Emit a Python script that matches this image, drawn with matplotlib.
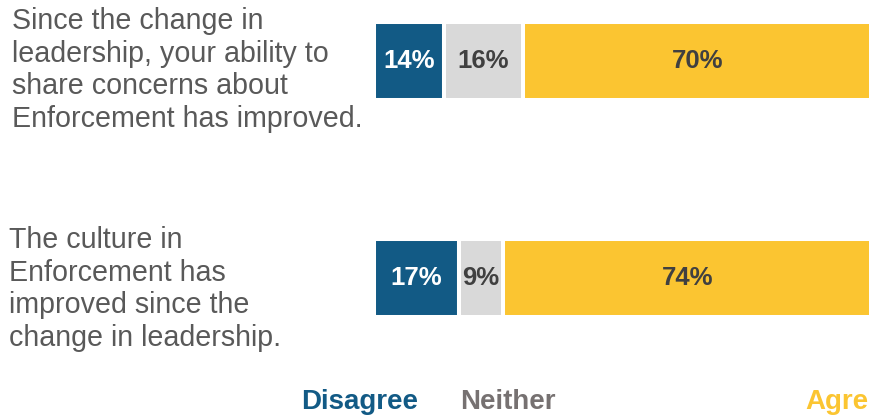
import matplotlib.pyplot as plt
import numpy as np

plt.rcParams['font.family'] = ['Liberation Sans', 'DejaVu Sans']

# Data
questions = [
    "Since the change in\nleadership, your ability to\nshare concerns about\nEnforcement has improved.",
    "The culture in\nEnforcement has\nimproved since the\nchange in leadership.",
]
responses = ['Disagree', 'Neither', 'Agree']
disagree = [14, 17]
neither = [16, 9]
agree = [70, 74]

colors = ['#125a85', '#d9d9d9', '#fbc531']
text_colors = ['white', '#404040', '#404040']
legend_colors = ['#125a85', '#767171', '#fbc531']

W, H = 870, 417
fig = plt.figure(figsize=(W / 100, H / 100), dpi=100)
# axes: 0% at x=374px, 100% at ~872px (right end runs off the canvas)
ax = fig.add_axes([374 / W, 0, 498 / W, 1])

y = np.arange(len(questions))
left = np.zeros(len(questions))
for vals, c, tc in zip([disagree, neither, agree], colors, text_colors):
    bars = ax.barh(y, vals, left=left, height=0.36, color=c,
                   edgecolor='white', linewidth=2.9)
    for b, v in zip(bars, vals):
        ax.text(b.get_x() + b.get_width() / 2, b.get_y() + b.get_height() / 2,
                f"{v}%", ha='center', va='center', fontsize=18.5,
                fontweight='bold', color=tc)
    left += np.array(vals)

ax.set_xlim(0, 100)
ax.set_ylim(1 + (H - 278) / 217, -61 / 217)
ax.axis('off')

# question labels on the left
for i, (q, xpx) in enumerate(zip(questions, [12, 9])):
    ax.text(xpx / W, 1 - (70 + 219 * i) / H, q, transform=fig.transFigure,
            ha='left', va='center', fontsize=20.6, color='#595959',
            linespacing=1.22)

# legend along the bottom
for name, col, xpx in zip(responses, legend_colors, [301, 460, 805]):
    fig.text(xpx / W, 1 - 402 / H, name, ha='left', va='center',
             fontsize=20, fontweight='bold', color=col)

fig.savefig('out.png', dpi=100)
